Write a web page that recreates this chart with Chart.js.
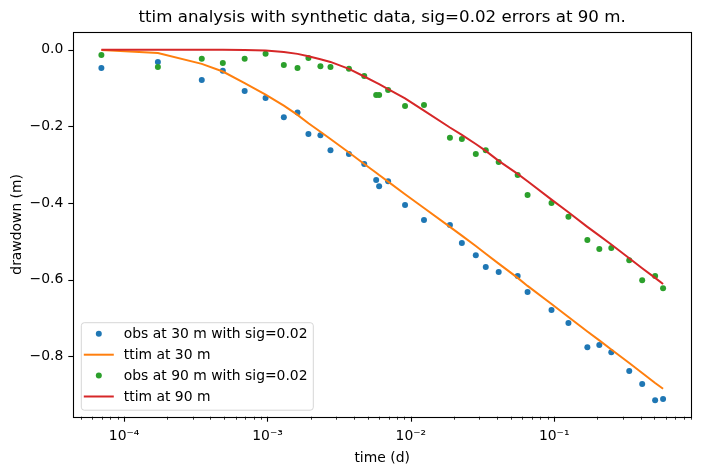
<!DOCTYPE html>
<html>
<head>
<meta charset="utf-8">
<script src="https://cdn.jsdelivr.net/npm/chart.js@4.4.0/dist/chart.umd.min.js"></script>
<style>
  html, body { margin: 0; padding: 0; background: #fff; }
  #wrap { width: 702px; height: 475px; }
</style>
</head>
<body>
<div id="wrap"><canvas id="chart" width="702" height="475"></canvas></div>
<script>
// observation times in days (same for both wells)
let times = [6.94e-5, 1.72e-4, 3.48e-4, 4.88e-4, 6.93e-4, 9.70e-4, 1.30e-3, 1.62e-3,
  1.93e-3, 2.34e-3, 2.75e-3, 3.70e-3, 4.73e-3, 5.73e-3, 6.01e-3, 6.94e-3, 9.11e-3,
  1.235e-2, 1.873e-2, 2.269e-2, 2.838e-2, 3.331e-2, 4.10e-2, 5.56e-2, 6.52e-2,
  9.58e-2, 0.1257, 0.1703, 0.2064, 0.2502, 0.3338, 0.4109, 0.5058, 0.5747];

let obs30 = [-0.048, -0.032, -0.079, -0.055, -0.108, -0.126, -0.176, -0.164, -0.220,
  -0.223, -0.262, -0.272, -0.298, -0.340, -0.356, -0.343, -0.405, -0.444, -0.457,
  -0.504, -0.536, -0.567, -0.580, -0.590, -0.632, -0.679, -0.713, -0.776, -0.770,
  -0.789, -0.838, -0.872, -0.914, -0.911];

let model30 = [-0.001, -0.009, -0.037, -0.057, -0.087, -0.117, -0.146, -0.170, -0.192,
  -0.214, -0.233, -0.268, -0.298, -0.321, -0.327, -0.344, -0.377, -0.413, -0.462,
  -0.485, -0.512, -0.532, -0.558, -0.595, -0.616, -0.663, -0.697, -0.735, -0.758,
  -0.782, -0.817, -0.843, -0.869, -0.884];

let obs90 = [-0.014, -0.045, -0.024, -0.035, -0.024, -0.011, -0.040, -0.048, -0.022,
  -0.043, -0.045, -0.050, -0.069, -0.118, -0.118, -0.105, -0.147, -0.144, -0.230,
  -0.233, -0.272, -0.262, -0.293, -0.327, -0.379, -0.400, -0.436, -0.496, -0.520,
  -0.517, -0.549, -0.601, -0.590, -0.622];

let model90 = [0, 0, 0, 0, -0.001, -0.002, -0.006, -0.011, -0.017, -0.025, -0.032,
  -0.050, -0.070, -0.086, -0.090, -0.103, -0.127, -0.159, -0.203, -0.222, -0.246,
  -0.264, -0.290, -0.324, -0.343, -0.391, -0.424, -0.462, -0.485, -0.508, -0.544,
  -0.570, -0.595, -0.611];

let yTicks = [0, -0.2, -0.4, -0.6, -0.8];
let xMajor = [1e-4, 1e-3, 1e-2, 1e-1];
let xLabels = ['10⁻⁴', '10⁻³', '10⁻²', '10⁻¹'];
let xDecades = [1e-5, 1e-4, 1e-3, 1e-2, 1e-1];

let font = 'DejaVu Sans';
Chart.defaults.color = '#000';
Chart.defaults.font.family = font;

function pts(ys){
  return times.map((t, i) => ({x: t, y: ys[i]}));
}

// tick marks, axes frame and the legend box (matplotlib style)
let framePlugin = {
  id: 'frame',
  afterDatasetsDraw(chart){
    let ctx = chart.ctx;
    let a = chart.chartArea;
    let xs = chart.scales.x, ys = chart.scales.y;
    ctx.save();
    ctx.strokeStyle = '#000';
    xs.ticks.forEach(t => {
      let px = xs.getPixelForValue(t.value);
      if(px < a.left - 0.5 || px > a.right + 0.5) return;
      let len = t.lab ? 5 : 3;
      ctx.lineWidth = t.lab ? 1.1 : 0.8;
      ctx.beginPath();
      ctx.moveTo(Math.round(px) + 0.5, a.bottom);
      ctx.lineTo(Math.round(px) + 0.5, a.bottom + len);
      ctx.stroke();
    });
    ctx.lineWidth = 1.1;
    ys.ticks.forEach(t => {
      let py = ys.getPixelForValue(t.value);
      ctx.beginPath();
      ctx.moveTo(a.left, Math.round(py) + 0.5);
      ctx.lineTo(a.left - 5, Math.round(py) + 0.5);
      ctx.stroke();
    });
    ctx.lineWidth = 1.1;
    ctx.strokeRect(Math.round(a.left) + 0.5, Math.round(a.top) + 0.5,
      Math.round(a.right - a.left), Math.round(a.bottom - a.top));
    ctx.restore();
  },
  afterDraw(chart){
    let ctx = chart.ctx;
    let a = chart.chartArea;
    let sets = chart.data.datasets;
    let rowH = 20.9;
    let w = 232, h = 87.5;
    let bx = a.left + 7.5, by = a.bottom - 7 - h;
    ctx.save();
    ctx.beginPath();
    ctx.roundRect(bx + 0.5, by + 0.5, w, h, 3);
    ctx.fillStyle = 'rgba(255,255,255,0.8)';
    ctx.fill();
    ctx.strokeStyle = 'rgba(204,204,204,0.8)';
    ctx.lineWidth = 1;
    ctx.stroke();
    ctx.font = '13.9px "' + font + '"';
    ctx.textBaseline = 'middle';
    ctx.fillStyle = '#000';
    sets.forEach((d, i) => {
      let cy = by + 11.6 + i * rowH;
      if(d.showLine){
        ctx.strokeStyle = d.borderColor;
        ctx.lineWidth = 2;
        ctx.beginPath();
        ctx.moveTo(bx + 3, cy);
        ctx.lineTo(bx + 33, cy);
        ctx.stroke();
      } else {
        ctx.fillStyle = d.backgroundColor;
        ctx.beginPath();
        ctx.arc(bx + 18, cy, 3, 0, Math.PI * 2);
        ctx.fill();
      }
      ctx.fillStyle = '#000';
      ctx.fillText(d.label, bx + 43, cy + 1);
    });
    ctx.restore();
  }
};

let ctx = document.getElementById('chart').getContext('2d');
let chart = new Chart(ctx, {
  type: 'scatter',
  data: {
    datasets: [
      { label: 'obs at 30 m with sig=0.02', data: pts(obs30), backgroundColor: '#1f77b4',
        borderColor: '#1f77b4', pointRadius: 3, borderWidth: 0, showLine: false, order: 4 },
      { label: 'ttim at 30 m', data: pts(model30), borderColor: '#ff7f0e', backgroundColor: '#ff7f0e',
        pointRadius: 0, borderWidth: 2, showLine: true, order: 3 },
      { label: 'obs at 90 m with sig=0.02', data: pts(obs90), backgroundColor: '#2ca02c',
        borderColor: '#2ca02c', pointRadius: 3, borderWidth: 0, showLine: false, order: 2 },
      { label: 'ttim at 90 m', data: pts(model90), borderColor: '#d62728', backgroundColor: '#d62728',
        pointRadius: 0, borderWidth: 2, showLine: true, order: 1 }
    ]
  },
  options: {
    responsive: false,
    animation: false,
    layout: { padding: { left: 0, right: 9, top: 0, bottom: 0 } },
    plugins: {
      legend: { display: false },
      tooltip: { enabled: false },
      title: {
        display: true,
        text: 'ttim analysis with synthetic data, sig=0.02 errors at 90 m.',
        fullSize: false,
        color: '#000',
        font: { family: font, size: 16.67, weight: 'normal' },
        padding: { top: 8, bottom: 4 }
      }
    },
    scales: {
      x: {
        type: 'logarithmic',
        min: 4.42e-5,
        max: 0.9,
        grid: { display: false, drawTicks: false },
        border: { display: false },
        ticks: {
          autoSkip: false, maxRotation: 0, padding: 11,
          font: { family: font, size: 13.9 },
          callback: (v, i, ticks) => ticks[i].lab || ''
        },
        title: { display: true, text: 'time (d)', font: { family: font, size: 13.9 },
          padding: { top: 0, bottom: 8.5 } },
        afterBuildTicks: s => {
          let list = [];
          xDecades.forEach(d => {
            for(let m = 2; m <= 9; m++) list.push({ value: m * d });
          });
          xMajor.forEach((v, i) => list.push({ value: v, lab: xLabels[i] }));
          list.sort((p, q) => p.value - q.value);
          s.ticks = list.filter(t => t.value >= s.min && t.value <= s.max);
        },
        afterFit: s => { s.height = 58.3; }
      },
      y: {
        min: -0.957,
        max: 0.046,
        grid: { display: false, drawTicks: false },
        border: { display: false },
        ticks: {
          padding: 10,
          font: { family: font, size: 13.9 },
          callback: v => (v < 0 ? '\u2212' : '') + Math.abs(v).toFixed(1)
        },
        title: { display: true, text: 'drawdown (m)', font: { family: font, size: 13.9 },
          padding: { top: 9, bottom: 0 } },
        afterBuildTicks: s => { s.ticks = yTicks.map(v => ({ value: v })); },
        afterFit: s => { s.width = 73.3; }
      }
    }
  },
  plugins: [framePlugin]
});
</script>
</body>
</html>
